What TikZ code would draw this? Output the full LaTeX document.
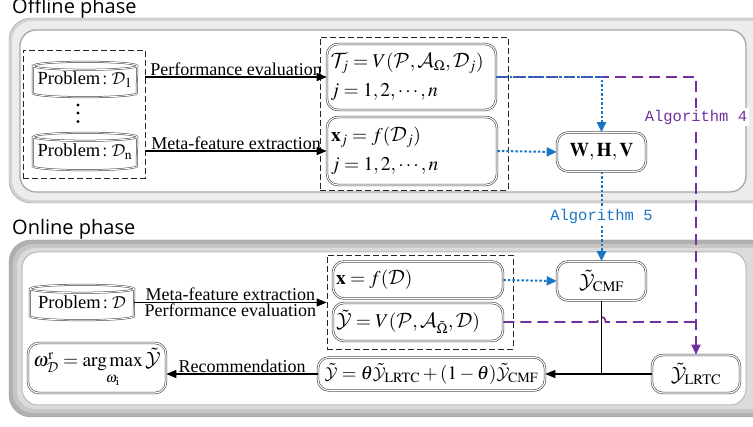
\documentclass[tikz,border=0pt]{standalone}
\usepackage{mathptmx}
\DeclareMathAlphabet{\mathcal}{OMS}{cmsy}{m}{n}
\usepackage{fontspec}
\setmainfont{Liberation Serif}
\setmonofont{Liberation Mono}
\newfontfamily\headfont{Open Sans}
\usetikzlibrary{arrows.meta}
\definecolor{algblue}{RGB}{25,118,196}
\definecolor{algpurple}{RGB}{112,48,160}

% outline of a drum-shaped data store around a named node
\newcommand\drumshape[1]{%
  \draw[cylline] (#1.north west) -- (#1.south west)
    arc[start angle=180, end angle=360, x radius=52pt, y radius=4pt]
    -- (#1.north east)
    arc[start angle=0, end angle=180, x radius=52pt, y radius=4pt]
    arc[start angle=180, end angle=360, x radius=52pt, y radius=4pt];}

\begin{document}
\begin{tikzpicture}[x=1pt, y=-1pt,
  every node/.style={font=\fontsize{18}{21}\selectfont},
  dbox/.style={draw=black!75, double=white, double distance=1.1pt, line width=0.6pt,
    rounded corners=11pt, fill=white, inner sep=0pt, font=\fontsize{19.5}{22}\selectfont},
  grp/.style={draw=black!85, line width=0.8pt, dash pattern=on 6pt off 3pt, inner sep=0pt},
  cylbody/.style={inner sep=0pt, minimum width=104pt, font=\fontsize{18.5}{22}\selectfont},
  cylline/.style={draw=black!75, double=white, double distance=0.9pt, line width=0.5pt},
  flow/.style={line width=1.2pt, -{Triangle[length=10pt,width=8pt]}},
  bdot/.style={draw=algblue, line width=2pt, dash pattern=on 2.5pt off 2pt,
    -{Triangle[length=10pt,width=9pt,fill=algblue]}},
  pdash/.style={draw=algpurple, line width=1.7pt, dash pattern=on 11pt off 6pt},
  pdasharr/.style={pdash, -{Triangle[length=10pt,width=9pt,fill=algpurple]}},
  algtxt/.style={font=\fontsize{15.5}{18}\selectfont\ttfamily, fill=white, inner sep=2pt},
  head/.style={anchor=base west, inner sep=0pt, font=\headfont\fontsize{20}{24}\selectfont},
]
\useasboundingbox (0,0) rectangle (753,427);

% phase frames
\filldraw[draw=gray!75, fill=gray!35, rounded corners=22pt] (9,18) rectangle (775,203);
\fill[gray!15, rounded corners=20pt] (12,21) rectangle (772,200);
\filldraw[draw=gray!70, line width=1.3pt, fill=white, rounded corners=16pt] (20,30) rectangle (746,192);

\filldraw[draw=gray!75, fill=gray!62, rounded corners=22pt] (9,240) rectangle (775,417);
\fill[gray!45, rounded corners=20pt] (13,244) rectangle (771,413);
\fill[gray!28, rounded corners=18pt] (17,248) rectangle (767,409);
\filldraw[draw=gray!55, line width=1pt, fill=white, rounded corners=16pt] (22,252) rectangle (746,405);

\node[head] (offhead) at (12,14) {Offline phase};
\node[head] (onhead) at (12,235) {Online phase};

% offline phase
\node[grp, minimum width=122pt, minimum height=128pt] (grpL) at (84,114) {};
\node[cylbody, minimum height=27pt] (p1) at (85,79.5) {Problem$\,:\mathcal{D}_{\mathrm{1}}$};
\node[cylbody, minimum height=29pt] (pn) at (85,151.5) {Problem$\,:\mathcal{D}_{\mathrm{n}}$};
\drumshape{p1}
\drumshape{pn}
\fill (78,105) circle (1.6pt) (78,113) circle (1.6pt) (78,121.5) circle (1.6pt);

\node[grp, minimum width=188pt, minimum height=153pt] (grpM) at (414,113.5) {};
\node[dbox, minimum width=169pt, minimum height=66pt, text width=162pt, align=left] (tj) at (411.5,77)
  {$\mathcal{T}_j = V(\mathcal{P},\mathcal{A}_{\Omega},\mathcal{D}_j)$\\[7pt]$j=1,2,\cdots,n$};
\node[dbox, minimum width=170pt, minimum height=68pt, text width=162pt, align=left] (xj) at (412,151)
  {$\mathbf{x}_j = f(\mathcal{D}_j)$\\[7pt]$j=1,2,\cdots,n$};
\node[dbox, minimum width=89pt, minimum height=39pt] (whv) at (601.5,152)
  {$\mathbf{W},\mathbf{H},\mathbf{V}$};

\draw[flow] (grpL.east |- tj.west) -- node[above, inner sep=1pt] {Performance evaluation} (tj.west);
\draw[flow] (grpL.east |- xj.west) -- node[above, inner sep=1pt] {Meta-feature extraction} (xj.west);

% online phase
\node[cylbody, minimum height=27pt] (pd) at (82,302.5) {Problem$\,:\mathcal{D}$};
\drumshape{pd}
\node[grp, minimum width=186pt, minimum height=94pt] (grpOn) at (420,302) {};
\node[dbox, minimum width=170pt, minimum height=37pt, text width=164pt, align=left] (xf) at (418,280)
  {$\mathbf{x} = f(\mathcal{D})$};
\node[dbox, minimum width=170pt, minimum height=38pt, text width=164pt, align=left] (yv) at (418,322)
  {$\tilde{\mathcal{Y}} = V(\mathcal{P},\mathcal{A}_{\tilde{\Omega}},\mathcal{D})$};
\node[dbox, minimum width=89pt, minimum height=39pt] (cmf) at (601.5,281)
  {$\tilde{\mathcal{Y}}_{\mathrm{CMF}}$};
\node[dbox, minimum width=88pt, minimum height=38pt] (lrtc) at (696,374)
  {$\tilde{\mathcal{Y}}_{\mathrm{LRTC}}$};
\node[dbox, minimum width=227pt, minimum height=33pt, font=\fontsize{19}{22}\selectfont] (comb) at (431.5,374)
  {$\tilde{\mathcal{Y}} = \theta\tilde{\mathcal{Y}}_{\mathrm{LRTC}} + (1-\theta)\tilde{\mathcal{Y}}_{\mathrm{CMF}}$};
\node[dbox, minimum width=138pt, minimum height=50pt] (rec) at (97,368)
  {$\omega_{\mathcal{D}}^{\mathrm{r}} = \mathop{\arg\max}\limits_{\omega_{\mathrm{i}}}\tilde{\mathcal{Y}}$};

\draw[flow] (pd.east) -- (pd.east -| grpOn.west)
  node[midway, above, inner sep=1pt] {Meta-feature extraction}
  node[midway, below, inner sep=1pt] {Performance evaluation};

% algorithm links
\draw[pdasharr] (tj.east) -- (tj.east -| lrtc.north)
  -- node[algtxt, text=algpurple, pos=0.145] {Algorithm 4} (lrtc.north);
\draw[bdot] (tj.east) -- (tj.east -| whv.north) -- (whv.north);
\draw[bdot] (xj.east) -- (whv.west);
\draw[bdot] (whv.south) -- node[algtxt, text=algblue, midway] {Algorithm 5} (cmf.north);
\draw[bdot] (xf.east) -- (cmf.west);

% combination of the two estimates
\draw[line width=1.2pt] (cmf.south) -- (cmf.south |- comb.east);
\draw[pdash] (yv.east) -- ([xshift=-4pt]cmf.south |- yv.east)
  .. controls +(0,-7) and +(0,-7) .. ([xshift=4pt]cmf.south |- yv.east)
  -- (yv.east -| lrtc.north);
\draw[flow] (lrtc.west) -- (comb.east);
\draw[flow] (comb.west) -- node[above, inner sep=1pt] {Recommendation} (comb.west -| rec.east);
\end{tikzpicture}
\end{document}
